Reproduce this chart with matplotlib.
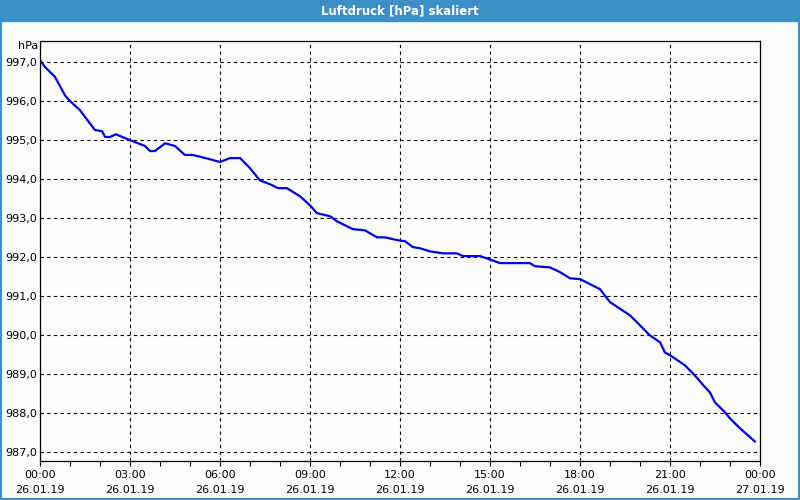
import matplotlib as mpl
mpl.use('Agg')
import matplotlib.pyplot as plt
from matplotlib.patches import Rectangle
from matplotlib.ticker import MultipleLocator

# hours since 26.01.19 00:00 and pressure in hPa
hours = [0.0, 0.17, 0.5, 0.83, 1.0, 1.33, 1.83, 2.07, 2.17, 2.33, 2.53, 3.0,
         3.5, 3.67, 3.83, 4.17, 4.5, 4.83, 5.1, 5.67, 6.0, 6.33, 6.67, 7.0,
         7.33, 7.67, 7.93, 8.23, 8.67, 9.0, 9.23, 9.67, 9.9, 10.43, 10.83,
         11.23, 11.5, 11.9, 12.17, 12.43, 12.67, 13.0, 13.43, 13.9, 14.1,
         14.67, 14.9, 15.33, 16.33, 16.5, 17.0, 17.33, 17.67, 18.0, 18.67,
         19.0, 19.67, 20.33, 20.67, 20.83, 21.0, 21.5, 21.83, 22.17, 22.33,
         22.5, 22.83, 23.0, 23.33, 23.83]
pressure = [997.05, 996.87, 996.62, 996.15, 996.00, 995.77, 995.26, 995.23,
            995.08, 995.08, 995.15, 995.00, 994.85, 994.72, 994.72, 994.92,
            994.85, 994.62, 994.62, 994.51, 994.44, 994.54, 994.54, 994.28,
            993.97, 993.87, 993.77, 993.77, 993.56, 993.33, 993.13, 993.05,
            992.92, 992.72, 992.69, 992.51, 992.51, 992.44, 992.41, 992.26,
            992.23, 992.15, 992.10, 992.10, 992.03, 992.03, 991.97, 991.85,
            991.85, 991.77, 991.74, 991.62, 991.46, 991.44, 991.18, 990.85,
            990.51, 990.00, 989.82, 989.56, 989.49, 989.23, 988.97, 988.67,
            988.54, 988.28, 988.03, 987.87, 987.62, 987.28]

x_ticks = [0, 3, 6, 9, 12, 15, 18, 21, 24]
x_labels = ['00:00\n26.01.19', '03:00\n26.01.19', '06:00\n26.01.19',
            '09:00\n26.01.19', '12:00\n26.01.19', '15:00\n26.01.19',
            '18:00\n26.01.19', '21:00\n26.01.19', '00:00\n27.01.19']
y_ticks = [987, 988, 989, 990, 991, 992, 993, 994, 995, 996, 997]
y_labels = ['987,0', '988,0', '989,0', '990,0', '991,0', '992,0',
            '993,0', '994,0', '995,0', '996,0', '997,0']

bg = '#fbfdfb'
blue_bar = '#3c8fc7'

fig = plt.figure(figsize=(8, 5), dpi=100, facecolor=bg)

# title bar and window border
fig.patches.append(Rectangle((0, 479 / 500), 1, 21 / 500, transform=fig.transFigure,
                             color=blue_bar, zorder=0))
fig.patches.append(Rectangle((0.001, 0.002), 0.998, 0.96, transform=fig.transFigure,
                             fill=False, edgecolor=blue_bar, linewidth=1.5, zorder=0))
fig.text(0.5, 489.5 / 500, 'Luftdruck [hPa] skaliert', color='white', fontsize=8.5,
         fontweight='bold', ha='center', va='center')

ax = fig.add_axes([40 / 800, 39 / 500, 720 / 800, 420 / 500])
ax.set_facecolor(bg)
ax.plot(hours, pressure, color='#0000e6', linewidth=1.6)

ax.set_xlim(0, 24)
ax.set_ylim(986.78, 997.54)
ax.set_xticks(x_ticks)
ax.set_xticklabels(x_labels, fontsize=8, linespacing=1.6)
ax.xaxis.set_minor_locator(MultipleLocator(1))
ax.set_yticks(y_ticks)
ax.set_yticklabels(y_labels, fontsize=8)

ax.tick_params(axis='x', which='both', direction='out', length=3.5, width=0.8, pad=3)
ax.tick_params(axis='y', length=0, pad=2)
ax.grid(True, which='major', color='black', linestyle=(0, (3, 3)), linewidth=0.8)
for s in ax.spines.values():
    s.set_color('black')
    s.set_linewidth(0.9)

fig.text(38 / 800, 454 / 500, 'hPa', fontsize=8, ha='right', va='center')

plt.savefig('out.png', dpi=100, facecolor=bg)
